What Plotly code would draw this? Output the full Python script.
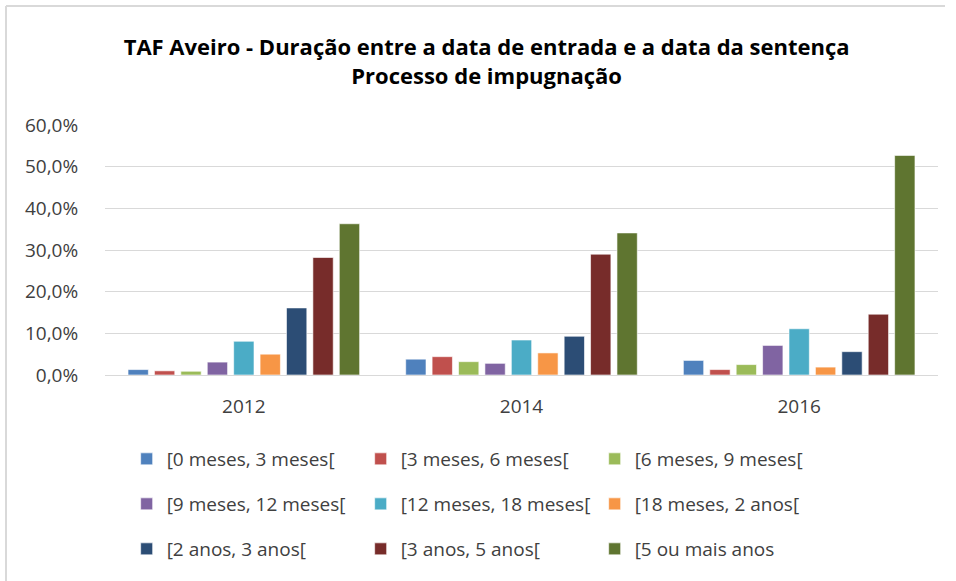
import plotly.graph_objects as go

years = ["2012", "2014", "2016"]
series_names = [
    "[0 meses, 3 meses[",
    "[3 meses, 6 meses[",
    "[6 meses, 9 meses[",
    "[9 meses, 12 meses[",
    "[12 meses, 18 meses[",
    "[18 meses, 2 anos[",
    "[2 anos, 3 anos[",
    "[3 anos, 5 anos[",
    "[5 ou mais anos",
]
s0 = [0.013, 0.038, 0.035]
s1 = [0.010, 0.044, 0.013]
s2 = [0.009, 0.032, 0.025]
s3 = [0.031, 0.028, 0.071]
s4 = [0.081, 0.084, 0.111]
s5 = [0.050, 0.053, 0.019]
s6 = [0.161, 0.093, 0.056]
s7 = [0.282, 0.290, 0.146]
s8 = [0.363, 0.341, 0.527]
series_values = [s0, s1, s2, s3, s4, s5, s6, s7, s8]
colors = ["#4F81BD", "#C0504D", "#9BBB59", "#8064A2", "#4BACC6",
          "#F79646", "#2C4D75", "#772C2A", "#5F7530"]
y_ticks = [0, 0.1, 0.2, 0.3, 0.4, 0.5, 0.6]

FONT = "Open Sans, Carlito, Calibri, sans-serif"
legend_ids = ["legend", "legend2", "legend3"]

fig = go.Figure()
for i, (name, vals, col) in enumerate(zip(series_names, series_values, colors)):
    fig.add_trace(go.Bar(
        x=years, y=vals, name=name,
        legend=legend_ids[i // 3],
        marker=dict(color=col, line=dict(color="rgba(255,255,255,0.6)", width=1)),
    ))

def legend_row(ypos):
    return dict(
        orientation="h", x=0.026, xanchor="left", y=ypos, yanchor="middle",
        entrywidth=189, entrywidthmode="pixels",
        font=dict(family=FONT, size=19, color="#404040"),
        itemclick=False, itemdoubleclick=False,
        traceorder="normal", bgcolor="rgba(0,0,0,0)",
    )

fig.update_layout(
    width=956, height=581,
    margin=dict(l=105, r=18, t=125, b=206),
    paper_bgcolor="white", plot_bgcolor="white",
    separators=", ",
    barmode="group", bargap=0.144, bargroupgap=0.23,
    font=dict(family=FONT, size=19, color="#404040"),
    title=dict(
        text="<b>TAF Aveiro - Duração entre a data de entrada e a data da sentença<br>Processo de impugnação</b>",
        x=0.509, xanchor="center", y=0.905, yanchor="top",
        font=dict(family=FONT, size=22, color="#000000"),
    ),
    showlegend=True,
    legend=legend_row(-0.336),
    legend2=legend_row(-0.516),
    legend3=legend_row(-0.696),
    xaxis=dict(
        showgrid=False, showline=True, linecolor="#D9D9D9", linewidth=1,
        ticks="outside", ticklen=14, tickcolor="rgba(0,0,0,0)",
        tickfont=dict(family=FONT, size=19, color="#404040"),
    ),
    yaxis=dict(
        range=[0, 0.6], tickvals=y_ticks, tickformat=".1%",
        showgrid=True, gridcolor="#D9D9D9", gridwidth=1,
        zeroline=False, showline=False,
        ticks="outside", ticklen=22, tickcolor="rgba(0,0,0,0)",
        tickfont=dict(family=FONT, size=19, color="#404040"),
    ),
    shapes=[
        dict(type="line", xref="paper", yref="paper",
             x0=(6 - 105) / 833, x1=(6 - 105) / 833,
             y0=(375 - 581) / 250, y1=(375 - 6) / 250,
             line=dict(color="#D9D9D9", width=2)),
        dict(type="line", xref="paper", yref="paper",
             x0=(6 - 105) / 833, x1=(945 - 105) / 833,
             y0=(375 - 6) / 250, y1=(375 - 6) / 250,
             line=dict(color="#D9D9D9", width=2)),
    ],
)

fig.write_html(
    "out.html",
    config={"displayModeBar": False},
    post_script="document.body.style.margin='0px';document.body.style.overflow='hidden';",
)
